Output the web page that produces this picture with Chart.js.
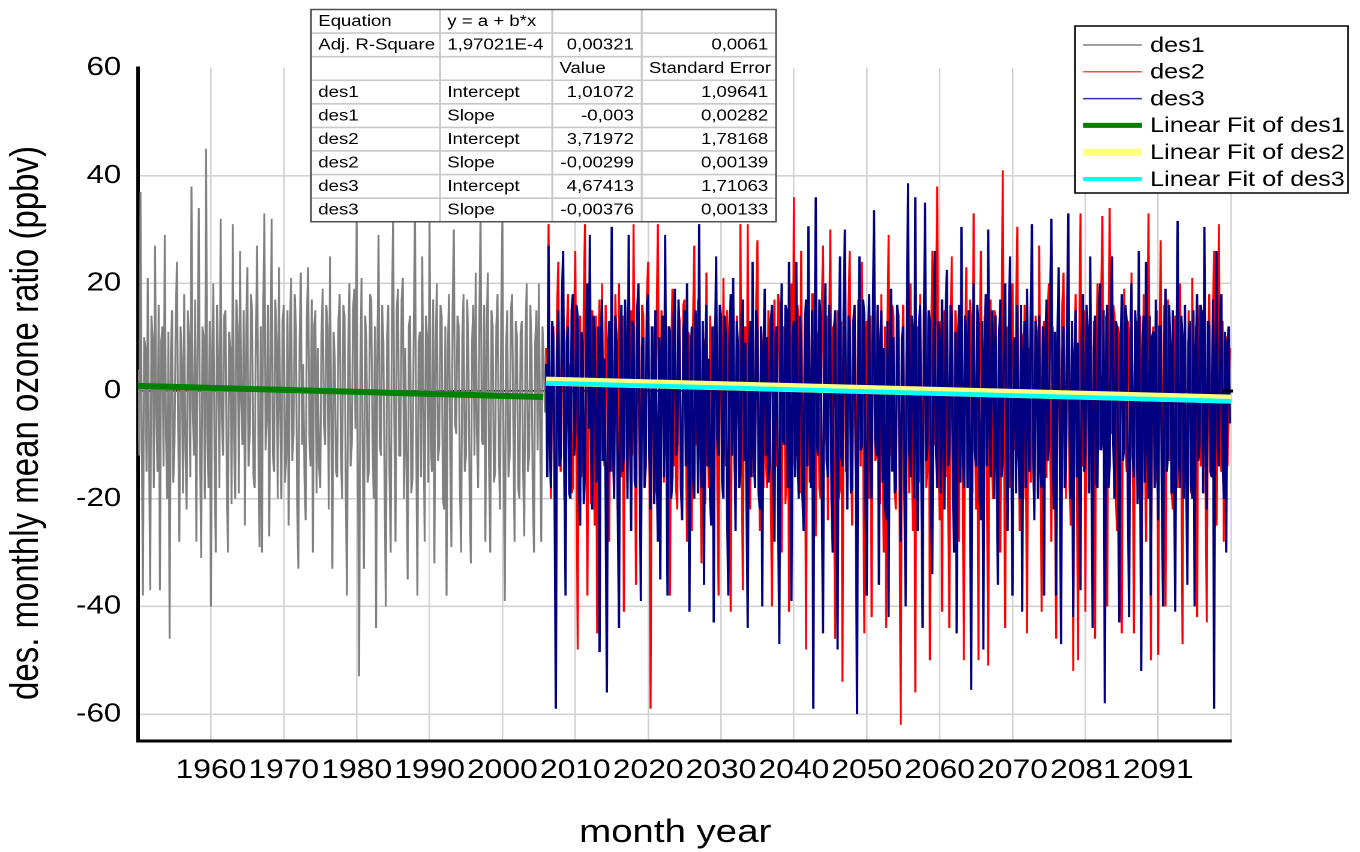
<!DOCTYPE html>
<html><head><meta charset="utf-8">
<script src="https://cdn.jsdelivr.net/npm/chart.js@4.4.1/dist/chart.umd.min.js"></script>
<style>
html,body{margin:0;padding:0;background:#fff;overflow:hidden}
#c{display:block;width:1360px !important;height:852px !important}
</style></head><body>
<canvas id="c" width="1133" height="852"></canvas>
<script>
// ---- data (one value every 2 months) ----
const des1Start = 1950;          // des1: 1950 .. 2005
const des23Start = 2006;         // des2 / des3: 2006 .. 2099
const sampleStep = 2 / 12;       // years between two values

const des1 = [
 4,-12, 37,-6, -38,10, 8,-15, 21,-9, -37,14, 10,-18, 27,-4, -15,16, -37,9,
 12,-14, 29,-8, -20,11, -46,7, 15,-17, -10,13, 24,-6, -28,12, 6,-19, 18,-11,
 -22,15, 9,-16, 38,-3, -12,17, -28,8, 34,-10, -31,12, 10,-20, 45,-7, -18,13,
 -40,6, 20,-13, -30,16, 5,-18, 32,-5, -12,14, 15,-15, -30,11, 8,-21, 31,-9,
 -20,17, 12,-19, 26,-2, -10,15, -25,10, 23,-14, -8,18, 14,-16, -18,9, 27,-7,
 -29,12, -30,14, 33,-11, -5,16, -27,5, 32,-12, -15,17, 10,-20, 23,-4, -20,13,
 16,-17, -12,15, -25,11, 21,-13, -8,18, 12,-21, -33,9, 22,-10, 5,-16, -24,14,
 23,-8, -14,17, -30,12, 15,-19, 8,-14, -18,10, 19,-6, -10,16, 12,-22, 25,-3,
 -33,11, 6,-15, -16,13, 18,-11, -20,16, 14,-18, -38,8, 20,-14, -10,15, 19,-7,
 33,-13, -53,4, 21,-12, -33,14, 10,-17, -15,18, 17,-9, -20,12, -44,6, 29,-10,
 -12,16, 9,-18, -40,10, 16,-15, -30,13, 33,-6, -28,15, 19,-12, -12,17, 21,-20,
 8,-14, -35,12, 14,-19, -16,11, 34,-8, -38,9, 11,-16, 25,-5, -28,14, 10,-17,
 33,-10, -15,17, -32,8, 20,-13, -10,16, 14,-20, -22,12, -38,7, 18,-11, -29,15,
 30,-6, -8,14, 12,-18, -30,10, 18,-15, -12,17, 8,-19, -32,9, 16,-12, 22,-8,
 -18,13, 34,-9, -10,16, -28,11, 22,-14, -30,15, 12,-17, -15,12, 18,-10, -22,14,
 33,-12, -39,8, 15,-16, -12,15, 18,-7, -28,13, 10,-18, -20,11, 13,-14, -27,10,
 20,-15, -12,16, 8,-19, -30,9, 15,-11, 20,-6, -28,12, 6,-4
];

const des2 = [
 8,-14, 31,-10, -20,9, 12,-18, -8,15, 24,-6, -15,13, 10,-20, -22,11, 18,-12,
 5,-19, -18,12, 26,-8, -48,6, 14,-16, -12,17, 31,-11, -38,10, 9,-21, 15,-7,
 -25,14, -45,9, 17,-13, 20,-5, -14,16, 6,-18, -28,12, 13,-15, -10,18, 8,-22,
 20,-9, -16,14, -41,7, 11,-17, -6,13, 15,-12, 31,-4, -36,11, 10,-19, -20,16,
 14,-15, -9,18, 24,-7, -59,5, 12,-20, -18,13, 31,-10, -24,15, 8,-17, 16,-12,
 -15,12, -38,8, 19,-14, 4,-18, -22,15, 13,-19, -12,16, 17,-6, -28,11, 10,-16,
 -26,13, 27,-8, -10,17, 14,-15, -32,10, 9,-21, 22,-9, -18,14, 6,-13, -25,12,
 15,-18, -38,9, 11,-16, 21,-6, -14,15, 8,-20, -41,7, 16,-12, -20,14, 5,-17,
 31,-11, -37,10, 12,-19, 31,-7, -22,13, 10,-16, -15,17, 28,-9, -26,12, 7,-18,
 14,-13, -18,15, 9,-20, -40,8, 17,-14, -8,18, 16,-11, -30,10, 12,-21, -16,14,
 -41,9, 20,-14, 36,-6, -12,16, 10,-19, 26,-8, -22,12, -48,6, 15,-17, -10,18,
 18,-12, -27,11, 8,-18, -20,15, 27,-10, -6,14, -24,10, 30,-7, 12,-16, -46,5,
 15,-20, -18,13, -54,8, 20,-15, -9,16, 26,-11, -25,12, 11,-19, -15,17, 6,-14,
 24,-8, -45,7, 13,-17, -20,14, -42,9, 17,-13, -12,15, 9,-21, 18,-10, -30,12,
 -44,10, 29,-12, -8,16, 14,-18, -22,13, 10,-20, -62,4, 16,-14, -15,17, 7,-19,
 20,-10, -26,12, -56,6, 12,-17, 18,-8, -20,15, 6,-18, -14,14, -50,8, 26,-9,
 -10,16, 38,-7, -24,13, -41,9, 15,-16, 8,-20, -44,10, 25,-11, -12,15, 10,-18,
 -28,11, 16,-14, -50,7, 23,-12, -8,17, 12,-19, 33,-6, -22,13, -50,9, 26,-10,
 -15,14, 9,-18, -51,8, 17,-13, -20,15, 14,-16, -10,12, -30,10, 41,-8, -44,6,
 12,-15, -18,13, 20,-11, -8,16, 30.5,-9, -26,11, 10,-20, 16,-12, -45,8, 7,-17,
 18,-13, -22,14, 11,-19, 27,-7, -41,10, 13,-16, -16,15, 20,-10, -28,12, 8,-21,
 -46,7, 15,-17, -12,16, 22,-9, -20,13, 10,-18, -25,11, -52,6, 18,-14, -50,9,
 33,-8, -14,15, -41,10, 12,-18, 16,-12, -24,13, -46,8, 20,-11, -10,17, 32.5,-7,
 -18,14, -40,9, 34,-6, -8,16, 14,-19, -26,12, 10,-16, -45,7, 19,-10, -15,13,
 8,-17, 22,-9, -45,8, 13,-15, -20,14, 6,-20, 18,-11, -28,12, 33,-7, -50,10,
 12,-18, -16,15, -49,7, 28,-9, -10,16, -40,10, 17,-13, 9,-19, -22,12, 14,-16,
 -18,13, 20,-10, -47,8, 11,-17, -14,15, 7,-19, 21,-8, -25,12, -42,9, 16,-14,
 -10,15, 12,-18, -43,7, 18,-12, -8,14, 26,-9, -25,11, 31,-8, -15,13, -28,10,
 10,-14, -5,8
];

const des3 = [
 5,-16, 27,-8, -18,13, 10,-20, -59,6, 15,-14, -12,17, 26,-10, -38,9, 12,-19,
 -20,15, 18,-12, -8,16, 14,-18, -25,11, 9,-21, -15,13, 20,-7, 29,-11, -22,14,
 11,-17, -16,12, -48.5,8, 17,-13, 6,-19, -56,7, 13,-15, 30.5,-9, -20,14, 9,-22,
 -44,10, 16,-15, -12,17, 8,-20, 29,-6, -26,13, 12,-17, -18,15, 20,-10, -39,8,
 10,-18, -14,16, 18,-11, -22,12, 7,-21, 15,-13, -28,10, -35,9, 14,-16, 29,-8,
 -38,12, 11,-20, -16,14, 19,-12, -10,17, 8,-18, -24,11, 15,-14, 20,-9, -41,7,
 12,-16, -20,15, 9,-19, 31,-10, -18,13, -36,8, 16,-14, 6,-20, -25,12, -43,6,
 25,-9, -12,16, 14,-17, -20,14, 10,-22, -38,9, 18,-12, 21,-7, -26,13, 8,-18,
 -15,14, 17,-13, 9,-20, -44,7, 13,-16, 24,-10, -18,15, 11,-19, -22,12, -40,8,
 19,-12, 10,-17, -14,13, 16,-15, -28,11, 12,-21, -47,6, 20,-9, -10,16, 15,-18,
 24,-8, -39,10, 13,-16, 24,-11, -20,14, 9,-19, -26,12, 17,-14, 30.6,-7, -18,15,
 -59,5, 36,-10, -12,17, 14,-18, -45,8, 20,-13, -16,16, 10,-20, -30,11, 15,-15,
 -48,9, 25,-12, -14,15, 30,-8, -22,14, 12,-19, -18,13, 16,-16, -60,4, 25,-11,
 -10,17, 14,-20, -38,8, 18,-14, -20,12, 33.6,-9, -12,16, -36,7, 15,-17, 8,-21,
 -24,13, -42,6, 19,-15, 10,-19, -18,16, 14,-12, -28,10, 12,-18, -40,9, 38.6,-11,
 -16,14, 11,-20, 36,-9, -26,12, 16,-17, -44,7, 35,-13, -10,15, 13,-21, -34,10,
 26,-10, -18,13, 9,-19, 17,-8, -22,15, 22.5,-14, -12,16, 14,-20, -30,11, -45,6,
 16,-17, 30.5,-9, -18,14, 10,-18, 15,-12, -55.5,5, 20,-11, -14,16, 12,-20, -24,13,
 -48,8, 18,-14, 30,-7, -16,15, 9,-20, 14,-13, -36,10, 17,-16, -12,14, 20,-9,
 -26,12, 25,-10, -38,9, 10,-19, 16,-11, -20,16, -41,7, 13,-18, 19,-8, -15,14,
 31,-9, -24,13, 8,-20, 14,-15, -18,12, -38,8, 17,-13, -10,16, 32,-7, -22,11,
 -38,9, 23,-12, -47,6, 12,-18, -14,15, 33,-8, -20,13, -42,7, 15,-16, 9,-20,
 -37,10, 18,-15, -12,16, 11,-19, 25,-9, -44,8, 14,-17, -18,12, 20,-11, -8,15,
 -58,5, 16,-18, -14,14, 25,-10, -20,13, 12,-20, -43,8, 18,-13, -10,16, 13,-19,
 -42,9, 20,-12, -16,15, 9,-21, 26,-8, -52,6, 14,-17, 24,-9, -20,14, -38,10,
 11,-18, 17,-13, -24,12, 12,-20, -40,8, 19,-15, -12,16, 8,-19, 15,-10, -41,7,
 31.6,-11, -18,14, 10,-20, 16,-14, -36,9, 13,-17, -20,15, -40,8, 18,-13, -10,16,
 14,-19, 30.5,-8, -22,13, 12,-15, -16,17, -59,6, 26,-10, -14,15, 18,-12, -20,11,
 -30,9, 12,-6
];

// linear fit lines: end points
const fit1X = [1950, 2005.6];
const fit1Y = [0.95, -1.1];
const fit23X = [2006, 2100];
const fit2Y = [1.85, -1.5];
const fit3Y = [1.5, -1.9];

const seriesLabels = ['des1', 'des2', 'des3', 'Linear Fit of des1', 'Linear Fit of des2', 'Linear Fit of des3'];
const xTickValues = [1960, 1970, 1980, 1990, 2000, 2010, 2020, 2030, 2040, 2050, 2060, 2070, 2080, 2090];
const xTickLabels = ['1960', '1970', '1980', '1990', '2000', '2010', '2020', '2030', '2040', '2050', '2060', '2070', '2081', '2091'];
const yTickValues = [-60, -40, -20, 0, 20, 40, 60];
const xTitle = 'month year';
const yTitle = 'des. monthly mean ozone ratio (ppbv)';

const tableRows = [
 ['Equation', 'y = a + b*x', '', ''],
 ['Adj. R-Square', '1,97021E-4', '0,00321', '0,0061'],
 ['', '', 'Value', 'Standard Error'],
 ['des1', 'Intercept', '1,01072', '1,09641'],
 ['des1', 'Slope', '-0,003', '0,00282'],
 ['des2', 'Intercept', '3,71972', '1,78168'],
 ['des2', 'Slope', '-0,00299', '0,00139'],
 ['des3', 'Intercept', '4,67413', '1,71063'],
 ['des3', 'Slope', '-0,00376', '0,00133']
];

// ---- chart ----
const FONT = "'Liberation Sans', Arial, Helvetica, sans-serif";
const toXY = (arr, start) => arr.map((v, i) => ({x: start + i * sampleStep, y: v}));
const pairXY = (xs, ys) => xs.map((x, i) => ({x: x, y: ys[i]}));

const overlay = {
  id: 'overlay',
  afterDraw(chart) {
    const ctx = chart.ctx;
    const ca = chart.chartArea;
    const y0 = chart.scales.y.getPixelForValue(0);
    ctx.save();
    // small zero mark at the right edge
    ctx.strokeStyle = '#000'; ctx.lineWidth = 3;
    ctx.beginPath(); ctx.moveTo(ca.right - 7, y0); ctx.lineTo(ca.right + 1.5, y0); ctx.stroke();

    // ---- axis titles ----
    ctx.fillStyle = '#000';
    ctx.textAlign = 'center'; ctx.textBaseline = 'middle';
    ctx.font = '32px ' + FONT;
    ctx.fillText(xTitle, 562.5, 833);
    ctx.save();
    ctx.translate(22.5, 423);
    ctx.rotate(-Math.PI / 2);
    ctx.font = '33px ' + FONT;
    ctx.fillText(yTitle, 0, 0);
    ctx.restore();

    // ---- results table ----
    const colX = [259.1, 366.6, 460.1, 534.6, 646.5];
    const top = 9.5, rowH = 23.58, nR = tableRows.length;
    const bottom = top + rowH * nR;
    ctx.fillStyle = '#fff';
    ctx.fillRect(colX[0], top, colX[4] - colX[0], bottom - top);
    ctx.strokeStyle = '#c8c8c8'; ctx.lineWidth = 1.6;
    ctx.beginPath();
    for (let r = 1; r < nR; r++) { ctx.moveTo(colX[0], top + r * rowH); ctx.lineTo(colX[4], top + r * rowH); }
    for (let c = 1; c < 4; c++) { ctx.moveTo(colX[c], top); ctx.lineTo(colX[c], bottom); }
    ctx.stroke();
    ctx.strokeStyle = '#505050'; ctx.lineWidth = 1.5;
    ctx.strokeRect(colX[0], top, colX[4] - colX[0], bottom - top);
    ctx.fillStyle = '#000';
    ctx.font = '15.5px ' + FONT;
    ctx.textBaseline = 'middle';
    tableRows.forEach((row, r) => {
      const cy = top + rowH * (r + 0.5) + 0.5;
      row.forEach((txt, c) => {
        if (!txt) return;
        const rightAligned = c >= 2 && r !== 2;
        if (rightAligned) { ctx.textAlign = 'right'; ctx.fillText(txt, colX[c + 1] - 6.5, cy); }
        else { ctx.textAlign = 'left'; ctx.fillText(txt, colX[c] + 6, cy); }
      });
    });

    // ---- legend ----
    const L = {left: 895.6, top: 26, right: 1123, bottom: 193};
    ctx.fillStyle = '#fff';
    ctx.fillRect(L.left, L.top, L.right - L.left, L.bottom - L.top);
    ctx.strokeStyle = '#000'; ctx.lineWidth = 1.5;
    ctx.strokeRect(L.left, L.top, L.right - L.left, L.bottom - L.top);
    ctx.font = '21px ' + FONT;
    ctx.textAlign = 'left';
    chart.data.datasets.forEach((ds, k) => {
      const cy = 45 + 26.8 * k;
      ctx.strokeStyle = ds.legendColor || ds.borderColor;
      ctx.lineWidth = ds.legendWidth || ds.borderWidth;
      ctx.beginPath(); ctx.moveTo(902.2, cy); ctx.lineTo(951.4, cy); ctx.stroke();
      ctx.fillStyle = '#000';
      ctx.fillText(ds.label, 958.1, cy + 1);
    });
    ctx.restore();
  }
};

const gridColor = (ctx) => {
  const v = ctx.tick && ctx.tick.value;
  if (ctx.scale.axis === 'y') {
    if (v === 0) return '#000000';
    if (v === 60) return 'rgba(0,0,0,0)';
  }
  return '#d2d2d2';
};

new Chart(document.getElementById('c'), {
  type: 'line',
  data: {
    datasets: [
      {label: seriesLabels[0], data: toXY(des1, des1Start), borderColor: '#808080', borderWidth: 1.6, order: 5, legendWidth: 1.5},
      {label: seriesLabels[1], data: toXY(des2, des23Start), borderColor: '#ff0000', borderWidth: 1.7, order: 4, legendWidth: 1.5, legendColor: '#ff4d4d'},
      {label: seriesLabels[2], data: toXY(des3, des23Start), borderColor: '#000080', borderWidth: 1.9, order: 3, legendWidth: 1.5, legendColor: '#3030a0'},
      {label: seriesLabels[3], data: pairXY(fit1X, fit1Y), borderColor: '#008000', borderWidth: 6, order: 2, legendWidth: 5},
      {label: seriesLabels[4], data: pairXY(fit23X, fit2Y), borderColor: '#ffff80', borderWidth: 9, order: 1, legendWidth: 7},
      {label: seriesLabels[5], data: pairXY(fit23X, fit3Y), borderColor: '#00ffff', borderWidth: 4.5, order: 0, legendWidth: 4}
    ]
  },
  options: {
    responsive: false,
    devicePixelRatio: 2,
    animation: false,
    parsing: false,
    normalized: true,
    elements: {point: {radius: 0}, line: {tension: 0, fill: false, borderJoinStyle: 'miter'}},
    layout: {padding: {left: 0, right: 107.4, top: 68, bottom: 0}},
    plugins: {legend: {display: false}, tooltip: {enabled: false}},
    scales: {
      x: {
        type: 'linear', min: 1950, max: 2100,
        afterFit: (s) => { s.height = 111; },
        afterBuildTicks: (s) => { s.ticks = [1950].concat(xTickValues, [2100]).map(v => ({value: v})); },
        ticks: {
          autoSkip: false, maxRotation: 0, minRotation: 0, padding: 14, color: '#000',
          font: {family: FONT, size: 26.5},
          callback: (v) => { const i = xTickValues.indexOf(v); return i >= 0 ? xTickLabels[i] : ''; }
        },
        grid: {color: gridColor, lineWidth: 1.3, drawTicks: false},
        border: {display: true, color: '#000', width: 3},
        title: {display: false, text: xTitle}
      },
      y: {
        type: 'linear', min: -65, max: 60,
        afterFit: (s) => { s.width = 115; },
        afterBuildTicks: (s) => { s.ticks = yTickValues.map(v => ({value: v})); },
        ticks: {padding: 14, color: '#000', font: {family: FONT, size: 26}},
        grid: {color: gridColor, lineWidth: 1.6, drawTicks: false},
        border: {display: true, color: '#000', width: 3},
        title: {display: false, text: yTitle}
      }
    }
  },
  plugins: [overlay]
});
</script>
</body></html>
